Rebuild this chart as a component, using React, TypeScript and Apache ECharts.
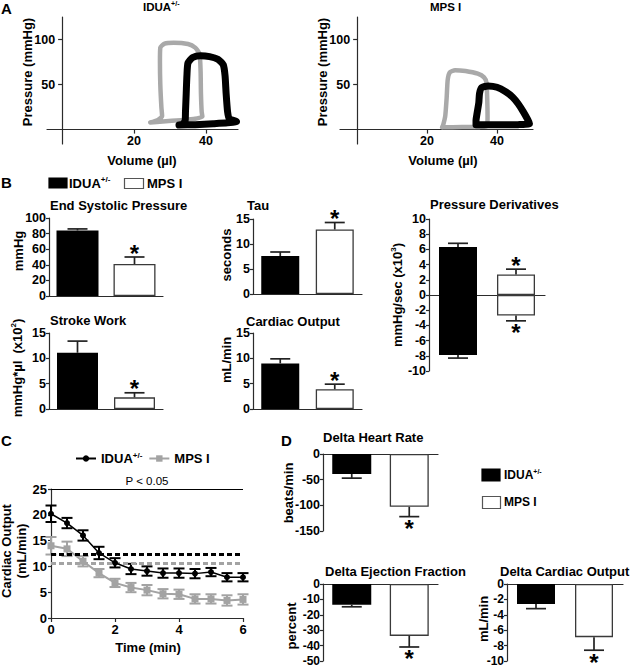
import React, { useEffect, useRef } from "react";
import * as echarts from "echarts";

const FONT = "Arial, 'Liberation Sans', Helvetica, sans-serif";
const INK = "#000000";
const AXIS_COLOR = "#2b2b2b";
const LOOP_GRAY = "#a9a9a9";
const LINE_GRAY = "#a3a3a3";

const groups = ["IDUA+/-", "MPS I"];

// ---------- A: pressure-volume loops, [volume (µl), pressure (mmHg)]
const pvIduaGray = [[24.5, 8], [28, 9], [33, 10.5], [37, 12], [39, 14.5], [38.8, 20], [38.6, 40], [38.5, 65], [38.2, 84], [37, 91], [35, 95], [31, 96.5], [28.5, 95.5], [27.3, 91], [27.2, 75], [27.3, 50], [27.6, 25], [27.8, 15], [26.5, 10.5], [24.5, 8]];
const pvIduaBlack = [[32.5, 5], [37, 5.5], [42, 6.5], [46, 7.5], [48.5, 9], [46.5, 12], [46, 20], [45.6, 40], [45.3, 60], [44.8, 72], [43.3, 78], [41, 81], [38.5, 82], [36.3, 80], [35, 74], [34.7, 60], [34.5, 40], [34.3, 20], [34.2, 10], [33.5, 6], [32.5, 5]];
const pvMpsGray = [[24.3, 2.5], [30, 2.8], [35, 3], [37.2, 4], [37.3, 15], [37.2, 35], [37, 52], [36.3, 58], [34.5, 62], [31, 65], [28, 66], [26.5, 63.5], [25.9, 55], [25.6, 35], [25.2, 15], [24.6, 5], [24.3, 2.5]];
const pvMpsBlack = [[34, 5.5], [40, 5.3], [46, 5.5], [49.3, 6.5], [48.8, 11], [47.5, 20], [46, 29], [44.5, 36], [42.5, 42], [40, 47], [37.5, 48.5], [35.6, 46.5], [35, 40], [34.8, 30], [34.3, 18], [34, 10], [34, 5.5]];
const pvVolumeTicks = [20, 40];
const pvPressureTicks = [50, 100];

// ---------- B: hemodynamics (mean, SEM) for [IDUA+/-, MPS I]
const espMean = [84, 41];
const espErr = [2, 9];
const tauMean = [7.6, 12.9];
const tauErr = [0.8, 1.4];
const dpdtMaxMean = [6.3, 2.7];
const dpdtMaxErr = [0.5, 0.7];
const dpdtMinMean = [-7.9, -2.7];
const dpdtMinErr = [0.4, 0.7];
const strokeWorkMean = [11.1, 2.3];
const strokeWorkErr = [2.3, 0.9];
const cardiacOutMean = [9.0, 3.9];
const cardiacOutErr = [0.9, 1.0];
const starFlags = [false, true];

// ---------- C: cardiac output over time
const timeMin = [0, 0.5, 1, 1.5, 2, 2.5, 3, 3.5, 4, 4.5, 5, 5.5, 6];
const coIdua = [20.2, 18.4, 16.0, 12.6, 10.7, 9.5, 9.1, 8.7, 8.7, 8.6, 8.9, 7.9, 7.9];
const coIduaSem = [1.6, 1.0, 1.0, 1.2, 0.9, 1.0, 0.9, 0.9, 0.9, 0.9, 0.8, 0.8, 0.8];
const coMps = [14.0, 13.4, 11.0, 8.7, 6.8, 5.9, 5.4, 4.7, 4.6, 3.7, 3.7, 3.4, 3.6];
const coMpsSem = [1.7, 1.4, 1.0, 0.8, 0.8, 0.9, 1.0, 0.9, 0.9, 0.9, 0.9, 1.0, 1.0];
const baselineIdua = 12.4;
const baselineMps = 10.7;
const pLineLevel = 25;

// ---------- D: deltas (mean, SEM)
const hrMean = [-39, -103];
const hrErr = [8, 19];
const efMean = [-13.5, -33.7];
const efErr = [1.3, 7.2];
const dcoMean = [-2.6, -6.9];
const dcoErr = [0.6, 1.7];

function errorBarRenderer(params: any, api: any) {
  const i = api.value(0);
  const v = api.value(1);
  const e = api.value(2);
  const star = api.value(3);
  const a = api.coord([i, v]);
  const b = api.coord([i, e]);
  const half = 10;
  const st = { stroke: "#222", lineWidth: 1.7 };
  const kids: any[] = [
    { type: "line", shape: { x1: a[0], y1: a[1], x2: b[0], y2: b[1] }, style: st },
    { type: "line", shape: { x1: b[0] - half, y1: b[1], x2: b[0] + half, y2: b[1] }, style: st },
  ];
  if (star) {
    const down = e < v;
    kids.push({
      type: "text",
      style: {
        text: "*", x: b[0], y: down ? b[1] + 12 : b[1] - 4, fill: INK,
        fontSize: 24, fontWeight: "bold", fontFamily: FONT, lineHeight: 10,
        align: "center", verticalAlign: "middle", textAlign: "center", textVerticalAlign: "middle",
      },
    });
  }
  return { type: "group", children: kids };
}

function rangeRenderer(color: string) {
  return (params: any, api: any) => {
    const x = api.value(0);
    const a = api.coord([x, api.value(1)]);
    const b = api.coord([x, api.value(2)]);
    const h = 5.5;
    const st = { stroke: color, lineWidth: 2 };
    return {
      type: "group",
      children: [
        { type: "line", shape: { x1: a[0], y1: a[1], x2: b[0], y2: b[1] }, style: st },
        { type: "line", shape: { x1: a[0] - h, y1: a[1], x2: a[0] + h, y2: a[1] }, style: st },
        { type: "line", shape: { x1: b[0] - h, y1: b[1], x2: b[0] + h, y2: b[1] }, style: st },
      ],
    };
  };
}

function buildOption() {
  const grids: any[] = [];
  const xAxes: any[] = [];
  const yAxes: any[] = [];
  const series: any[] = [];

  const lineStyle = { color: AXIS_COLOR, width: 1.2 };
  const addGrid = (box: number[]) => {
    grids.push({ left: box[0], top: box[1], width: box[2], height: box[3], containLabel: false, outerBoundsMode: "none" });
    return grids.length - 1;
  };
  const valueAxisStyle = (fontSize: number, margin: number, lh?: number) => ({
    axisLine: { show: true, onZero: true, lineStyle },
    axisTick: { show: true, length: 3, lineStyle },
    axisLabel: { color: INK, fontFamily: FONT, fontWeight: "bold", fontSize, margin, lineHeight: lh },
    splitLine: { show: false },
  });

  // ---- A panels: axes cross at (0, 0), placed with offsets from the grid edges
  const pvYMin = -16;
  const pvYMax = 125;
  const pvPanel = (box: number[], xmin: number, xmax: number, gray: number[][], black: number[][]) => {
    const gi = addGrid(box);
    const xZeroShift = (-xmin / (xmax - xmin)) * box[2];
    const yZeroShift = (-pvYMin / (pvYMax - pvYMin)) * box[3];
    xAxes.push({
      gridIndex: gi, type: "value", min: xmin, max: xmax, offset: -yZeroShift,
      axisLine: { show: true, onZero: false, lineStyle },
      axisTick: { show: true, length: 4, lineStyle, customValues: pvVolumeTicks },
      axisLabel: { color: INK, fontFamily: FONT, fontWeight: "bold", fontSize: 12.5, margin: 5, customValues: pvVolumeTicks },
      splitLine: { show: false },
    });
    yAxes.push({
      gridIndex: gi, type: "value", min: pvYMin, max: pvYMax, offset: -xZeroShift,
      axisLine: { show: true, onZero: false, lineStyle },
      axisTick: { show: true, length: 4, lineStyle, customValues: pvPressureTicks },
      axisLabel: { color: INK, fontFamily: FONT, fontWeight: "bold", fontSize: 12.5, margin: 7, customValues: pvPressureTicks },
      splitLine: { show: false },
    });
    const ai = xAxes.length - 1;
    series.push({
      type: "line", name: `pv-gray-${gi}`, xAxisIndex: ai, yAxisIndex: ai, data: gray,
      symbol: "none", smooth: 0.2, lineStyle: { color: LOOP_GRAY, width: 4.5, cap: "round", join: "round" },
    });
    series.push({
      type: "line", name: `pv-black-${gi}`, xAxisIndex: ai, yAxisIndex: ai, data: black,
      symbol: "none", smooth: 0.2, lineStyle: { color: INK, width: 7, cap: "round", join: "round" },
    });
  };
  pvPanel([47, 17, 191, 127], -4.2, 48.9, pvIduaGray, pvIduaBlack);
  pvPanel([340, 17, 193, 127], -4.9, 50.3, pvMpsGray, pvMpsBlack);

  // ---- bar panels
  const barPanel = (
    box: number[], min: number, max: number, interval: number,
    sets: { mean: number[]; err: number[] }[], barWidth: number, fontSize: number, margin: number, lh?: number,
  ) => {
    const gi = addGrid(box);
    xAxes.push({
      gridIndex: gi, type: "category", data: groups,
      axisLine: { show: true, onZero: true, lineStyle },
      axisTick: { show: false }, axisLabel: { show: false }, splitLine: { show: false },
    });
    yAxes.push({ gridIndex: gi, type: "value", min, max, interval, ...valueAxisStyle(fontSize, margin, lh) });
    const ai = xAxes.length - 1;
    sets.forEach((s, k) => {
      series.push({
        type: "bar", name: `bars-${gi}-${k}`, xAxisIndex: ai, yAxisIndex: ai,
        stack: sets.length > 1 ? `stack-${gi}` : undefined, barWidth,
        data: s.mean.map((v, i) => ({
          value: v,
          itemStyle: i === 0 ? { color: "#000" } : { color: "#fff", borderColor: "#3a3a3a", borderWidth: 1.3 },
        })),
      });
    });
    sets.forEach((s, k) => {
      series.push({
        type: "custom", name: `err-${gi}-${k}`, xAxisIndex: ai, yAxisIndex: ai, z: 3,
        renderItem: errorBarRenderer,
        data: s.mean.map((v, i) => [i, v, v + Math.sign(v) * s.err[i], starFlags[i] ? 1 : 0]),
      });
    });
  };

  barPanel([49, 218, 114, 78], 0, 100, 20, [{ mean: espMean, err: espErr }], 42, 12.5, 3);
  barPanel([253, 219, 109, 75], 0, 15, 5, [{ mean: tauMean, err: tauErr }], 38, 12.5, 3);
  barPanel([429, 219, 116, 152], -10, 10, 2, [{ mean: dpdtMaxMean, err: dpdtMaxErr }, { mean: dpdtMinMean, err: dpdtMinErr }], 38, 12.5, 3);
  barPanel([49, 333, 114, 76], 0, 15, 5, [{ mean: strokeWorkMean, err: strokeWorkErr }], 41, 12.5, 3);
  barPanel([253, 333, 109, 76], 0, 15, 5, [{ mean: cardiacOutMean, err: cardiacOutErr }], 38, 12.5, 3);
  barPanel([323, 454, 115, 77], -150, 0, 50, [{ mean: hrMean, err: hrErr }], 39, 12.5, 3, 10);
  barPanel([323, 584, 115, 77], -50, 0, 10, [{ mean: efMean, err: efErr }], 39, 12, 3, 9);
  barPanel([507, 584, 116, 77], -10, 0, 2, [{ mean: dcoMean, err: dcoErr }], 38, 12, 3, 9);

  // ---- C panel
  {
    const gi = addGrid([51, 489, 192, 129]);
    xAxes.push({
      gridIndex: gi, type: "value", min: 0, max: 6, interval: 2,
      axisLine: { show: true, onZero: true, lineStyle },
      axisTick: { show: true, length: 4, lineStyle },
      axisLabel: { color: INK, fontFamily: FONT, fontWeight: "bold", fontSize: 13, margin: 5 },
      splitLine: { show: false },
    });
    yAxes.push({ gridIndex: gi, type: "value", min: 0, max: 25, interval: 5, ...valueAxisStyle(13, 4) });
    const ai = xAxes.length - 1;
    series.push({
      type: "custom", name: "mps-sem", xAxisIndex: ai, yAxisIndex: ai, z: 2,
      renderItem: rangeRenderer(LINE_GRAY),
      data: timeMin.map((t, i) => [t, coMps[i] - coMpsSem[i], coMps[i] + coMpsSem[i]]),
    });
    series.push({
      type: "line", name: "MPS I", xAxisIndex: ai, yAxisIndex: ai, z: 3,
      data: timeMin.map((t, i) => [t, coMps[i]]),
      symbol: "rect", symbolSize: 7, showSymbol: true,
      lineStyle: { color: LINE_GRAY, width: 2 }, itemStyle: { color: LINE_GRAY },
      markLine: {
        silent: true, symbol: "none",
        data: [{ yAxis: baselineMps, lineStyle: { type: [5, 3], width: 3, color: LINE_GRAY }, label: { show: false } }],
      },
    });
    series.push({
      type: "custom", name: "idua-sem", xAxisIndex: ai, yAxisIndex: ai, z: 4,
      renderItem: rangeRenderer("#000"),
      data: timeMin.map((t, i) => [t, coIdua[i] - coIduaSem[i], coIdua[i] + coIduaSem[i]]),
    });
    series.push({
      type: "line", name: "IDUA+/-", xAxisIndex: ai, yAxisIndex: ai, z: 5,
      data: timeMin.map((t, i) => [t, coIdua[i]]),
      symbol: "circle", symbolSize: 6, showSymbol: true,
      lineStyle: { color: "#000", width: 1.5 }, itemStyle: { color: "#000" },
      markLine: {
        silent: true, symbol: "none",
        data: [
          { yAxis: baselineIdua, lineStyle: { type: [5, 3], width: 3, color: "#000" }, label: { show: false } },
          {
            yAxis: pLineLevel, lineStyle: { type: "solid", width: 1, color: "#000" },
            label: { show: true, formatter: "P < 0.05", position: "insideMiddleTop", distance: 2, color: INK, fontFamily: FONT, fontSize: 11.5, fontWeight: "normal" },
          },
        ],
      },
    });
  }

  const sup = (size: number, supSize: number) => ({
    b: { fontSize: size, fontWeight: "bold", fontFamily: FONT, fill: INK, color: INK, lineHeight: size + 2 },
    s: { fontSize: supSize, fontWeight: "bold", fontFamily: FONT, fill: INK, color: INK, verticalAlign: "top", lineHeight: supSize },
  });

  const T = (text: string, x: number, y: number, size: number, o: any = {}) => ({
    type: "text", x, y, rotation: o.rot || 0, silent: true,
    style: {
      text, fill: INK, fontSize: size, fontWeight: o.weight || "bold", fontFamily: FONT,
      align: o.align || "left", textAlign: o.align || "left",
      verticalAlign: "middle", textVerticalAlign: "middle",
      lineHeight: o.lineHeight, rich: o.rich,
    },
  });
  const R = (x: number, y: number, w: number, h: number, fill: string) => ({
    type: "rect", shape: { x, y, width: w, height: h }, silent: true,
    style: { fill, stroke: fill === "#000" ? "#000" : "#555", lineWidth: 1.2 },
  });
  const ROT = Math.PI / 2;

  const graphic = [
    // A
    T("A", 1, 8, 15),
    T("{b|IDUA}{s|+/-}", 143, 7, 11.5, { rich: sup(11.5, 7) }),
    T("MPS I", 430, 7, 11.5),
    T("Pressure (mmHg)", 27, 72, 13, { rot: ROT, align: "center" }),
    T("Pressure (mmHg)", 322, 72, 13, { rot: ROT, align: "center" }),
    T("Volume (µl)", 142, 160, 13, { align: "center" }),
    T("Volume (µl)", 443, 160, 13, { align: "center" }),
    // B
    T("B", 1, 182, 15),
    R(49, 178, 18, 10, "#000"),
    T("{b|IDUA}{s|+/-}", 69, 183, 13, { rich: sup(13, 8) }),
    R(124.5, 178.5, 19, 10, "#fff"),
    T("MPS I", 147, 183, 13),
    T("End Systolic Pressure", 50, 205, 13),
    T("Tau", 247, 205, 13),
    T("Pressure Derivatives", 430, 204, 13),
    T("Stroke Work", 50, 320, 13),
    T("Cardiac Output", 246, 321, 13),
    T("mmHg", 18, 251, 13, { rot: ROT, align: "center" }),
    T("seconds", 226, 255, 13, { rot: ROT, align: "center" }),
    T("{b|mmHg/sec (x10}{s|3}{b|)}", 397, 295, 13, { rot: ROT, align: "center", rich: sup(13, 8) }),
    T("{b|mmHg*µl  (x10}{s|2}{b|)}", 17, 368, 13, { rot: ROT, align: "center", rich: sup(13, 8) }),
    T("mL/min", 226, 360, 13, { rot: ROT, align: "center" }),
    // C
    T("C", 1, 440, 15),
    T("Cardiac Output\n(mL/min)", 14, 551, 13, { rot: ROT, align: "center", lineHeight: 15 }),
    T("Time (min)", 148, 647, 13, { align: "center" }),
    // D
    T("D", 281, 440, 15),
    T("Delta Heart Rate", 323, 437, 13),
    T("beats/min", 288, 493, 13, { rot: ROT, align: "center" }),
    T("Delta Ejection Fraction", 325, 571, 13),
    T("percent", 291, 626, 13, { rot: ROT, align: "center" }),
    T("Delta Cardiac Output", 500, 571, 13),
    T("mL/min", 483, 619, 13, { rot: ROT, align: "center" }),
    R(482, 469, 18, 12, "#000"),
    T("{b|IDUA}{s|+/-}", 504, 475, 12, { rich: sup(12, 7) }),
    R(482.5, 496.5, 18, 12, "#fff"),
    T("MPS I", 504, 502, 12),
  ];

  return {
    animation: false,
    backgroundColor: "#fff",
    textStyle: { fontFamily: FONT },
    grid: grids,
    xAxis: xAxes,
    yAxis: yAxes,
    series,
    legend: {
      data: ["IDUA+/-", "MPS I"],
      left: 70, top: 446, itemWidth: 20, itemHeight: 8, itemGap: 6, selectedMode: false,
      textStyle: { color: INK, fontFamily: FONT, fontWeight: "bold", fontSize: 13, rich: sup(13, 8) },
      formatter: (n: string) => (n === "IDUA+/-" ? "{b|IDUA}{s|+/-}" : "{b|MPS I}"),
    },
    graphic,
  };
}

export default function App() {
  const ref = useRef<HTMLDivElement>(null);
  useEffect(() => {
    if (!ref.current) return;
    const chart = echarts.init(ref.current, null, { renderer: "svg" });
    chart.setOption(buildOption() as any);
    return () => chart.dispose();
  }, []);
  return (
    <div
      ref={ref}
      style={{ position: "fixed", left: 0, top: 0, width: 640, height: 667, background: "#fff" }}
    />
  );
}
